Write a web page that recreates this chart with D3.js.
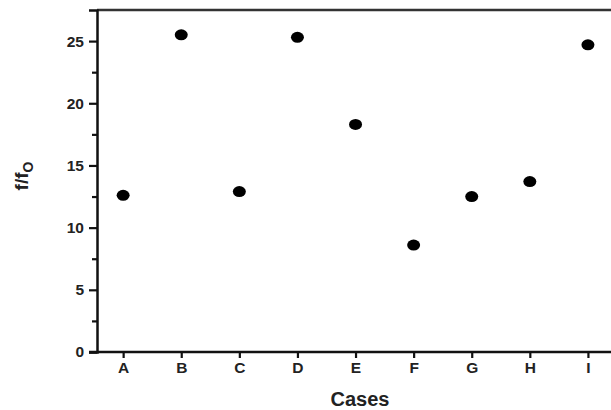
<!DOCTYPE html>
<html>
<head>
<meta charset="utf-8">
<script src="https://cdn.jsdelivr.net/npm/d3@7"></script>
<style>
  body { margin: 0; background: #fff; }
  svg text { font-family: "Liberation Sans", Arial, sans-serif; font-weight: bold; fill: #222; }
</style>
</head>
<body>
<svg id="chart" width="611" height="410"></svg>
<script>
var cases = ["A", "B", "C", "D", "E", "F", "G", "H", "I"];
var ratio = [12.6, 25.5, 12.9, 25.3, 18.3, 8.6, 12.5, 13.7, 24.7];
var yTicks = [0, 5, 10, 15, 20, 25];
var yMinor = [2.5, 7.5, 12.5, 17.5, 22.5];

var plotLeft = 97, plotRight = 610, plotTop = 10, plotBottom = 352;

var svg = d3.select("#chart");

// categories centred on 1..9
var x = d3.scaleLinear().domain([0.55, 9.38]).range([plotLeft, plotRight]);
var y = d3.scaleLinear().domain([0, 27.5]).range([plotBottom, plotTop]);

// top frame
svg.append("line")
	.attr("x1", plotLeft).attr("x2", 611)
	.attr("y1", plotTop).attr("y2", plotTop)
	.attr("stroke", "#333").attr("stroke-width", 2.5);

var yAxis = d3.axisLeft(y).tickValues(yTicks).tickSize(8).tickPadding(5);
var gy = svg.append("g").attr("transform", "translate(" + plotLeft + ",0)").call(yAxis);
gy.select(".domain").attr("stroke", "#111").attr("stroke-width", 2.5);
gy.selectAll(".tick line").attr("stroke", "#111").attr("stroke-width", 2.2);
gy.selectAll(".tick text").style("font-size", "15.5px").attr("fill", "#222");

var gyMinor = svg.append("g").attr("transform", "translate(" + plotLeft + ",0)")
	.call(d3.axisLeft(y).tickValues(yMinor).tickSize(5).tickFormat(""));
gyMinor.select(".domain").remove();
gyMinor.selectAll(".tick line").attr("stroke", "#111").attr("stroke-width", 2.2);

var xAxis = d3.axisBottom(x)
	.tickValues(d3.range(1, cases.length + 1))
	.tickFormat(function (d) { return cases[d - 1]; })
	.tickSize(6).tickPadding(4);
var gx = svg.append("g").attr("transform", "translate(0," + plotBottom + ")").call(xAxis);
gx.select(".domain").attr("stroke", "#111").attr("stroke-width", 2.5)
	.attr("d", "M" + (plotLeft - 8) + ",0H611");
gx.selectAll(".tick line").attr("stroke", "#111").attr("stroke-width", 2.2);
gx.selectAll(".tick text").style("font-size", "15.5px").attr("fill", "#222");

// points
svg.append("g").selectAll("ellipse")
	.data(ratio)
	.enter().append("ellipse")
	.attr("cx", function (d, i) { return x(i + 1); })
	.attr("cy", function (d) { return y(d); })
	.attr("rx", 6.5).attr("ry", 5.5)
	.attr("fill", "#000");

// axis titles
svg.append("text")
	.attr("x", 360).attr("y", 406)
	.attr("text-anchor", "middle")
	.style("font-size", "20px")
	.text("Cases");

var yl = svg.append("text")
	.attr("transform", "translate(28,176) rotate(-90)")
	.attr("text-anchor", "middle")
	.style("font-size", "19px");
yl.append("tspan").text("f/f");
yl.append("tspan").style("font-size", "14px").attr("dy", 5).text("O");
</script>
</body>
</html>
